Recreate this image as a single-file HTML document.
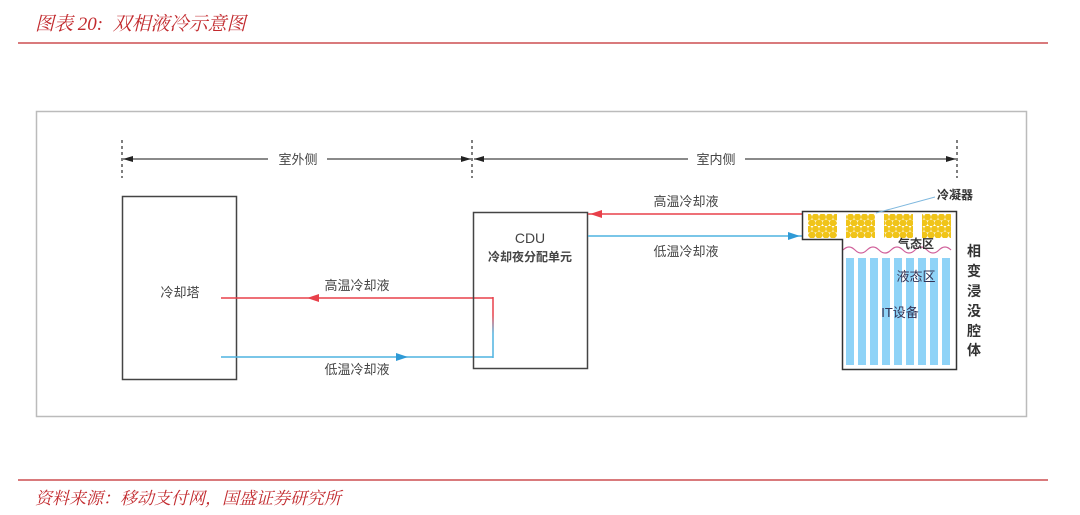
<!DOCTYPE html>
<html><head><meta charset="utf-8"><style>
html,body{margin:0;padding:0;background:#fff;}
body{width:1080px;height:515px;overflow:hidden;position:relative;font-family:"Liberation Sans","Noto Sans CJK SC",sans-serif;}
.t{position:absolute;font-family:"Liberation Serif","Noto Serif CJK SC",serif;font-style:italic;color:#c22a2e;}
</style></head><body>
<div class="t" style="left:35px;top:9px;font-size:19px;">图表 20:&nbsp; 双相液冷示意图</div>
<div style="position:absolute;left:18px;top:42px;width:1030px;height:2px;background:#d97a7c;"></div>
<div style="position:absolute;left:18px;top:479px;width:1030px;height:2px;background:#d97a7c;"></div>
<div class="t" style="left:35px;top:484px;font-size:17px;">资料来源：移动支付网，国盛证券研究所</div>
<svg width="1080" height="515" style="position:absolute;left:0;top:0" font-family="Liberation Sans, Noto Sans CJK SC, sans-serif">
<defs>
<pattern id="dots" x="0" y="214" width="7" height="12" patternUnits="userSpaceOnUse">
<circle cx="3.5" cy="3" r="3.5" fill="#f0c419"/><circle cx="0" cy="9" r="3.5" fill="#f0c419"/><circle cx="7" cy="9" r="3.5" fill="#f0c419"/>
</pattern>
<linearGradient id="vg" gradientUnits="userSpaceOnUse" x1="0" y1="297" x2="0" y2="358"><stop offset="0.3" stop-color="#e8404a"/><stop offset="0.6" stop-color="#4fb3e0"/></linearGradient>
</defs>
<rect x="36.5" y="111.5" width="990" height="305" fill="none" stroke="#bbb" stroke-width="1.5"/>
<g stroke="#555" stroke-width="1.5" stroke-dasharray="3,3">
<line x1="122" y1="140" x2="122" y2="178"/><line x1="472" y1="140" x2="472" y2="178"/><line x1="957" y1="140" x2="957" y2="178"/>
</g>
<g stroke="#444" stroke-width="1.2">
<line x1="123" y1="159" x2="268" y2="159"/><line x1="327" y1="159" x2="471" y2="159"/>
<line x1="474" y1="159" x2="688" y2="159"/><line x1="745" y1="159" x2="956" y2="159"/>
</g>
<g fill="#222">
<polygon points="123,159 133,156 133,162"/><polygon points="471,159 461,156 461,162"/>
<polygon points="474,159 484,156 484,162"/><polygon points="956,159 946,156 946,162"/>
</g>
<text x="298" y="164" font-size="13" fill="#444" text-anchor="middle">室外侧</text>
<text x="716" y="164" font-size="13" fill="#444" text-anchor="middle">室内侧</text>
<rect x="122.5" y="196.5" width="114" height="183" fill="#fff" stroke="#444" stroke-width="1.5"/>
<text x="180" y="297" font-size="13" fill="#444" text-anchor="middle">冷却塔</text>
<line x1="221" y1="298" x2="493" y2="298" stroke="#e8404a" stroke-width="1.5"/>
<line x1="221" y1="357" x2="493" y2="357" stroke="#4fb3e0" stroke-width="1.5"/>
<line x1="493" y1="297" x2="493" y2="358" stroke="url(#vg)" stroke-width="1.5"/>
<polygon points="307,298 319,294 319,302" fill="#e8404a"/>
<polygon points="408,357 396,353 396,361" fill="#2f9ad6"/>
<text x="357" y="290" font-size="13" fill="#444" text-anchor="middle">高温冷却液</text>
<text x="357" y="374" font-size="13" fill="#444" text-anchor="middle">低温冷却液</text>
<rect x="473.5" y="212.5" width="114" height="156" fill="none" stroke="#444" stroke-width="1.5"/>
<text x="530" y="243" font-size="14" fill="#444" text-anchor="middle">CDU</text>
<text x="530" y="261" font-size="12" font-weight="bold" fill="#444" text-anchor="middle">冷却夜分配单元</text>
<line x1="588" y1="214" x2="802" y2="214" stroke="#e8404a" stroke-width="1.5"/>
<polygon points="590,214 602,210 602,218" fill="#e8404a"/>
<line x1="588" y1="236" x2="802" y2="236" stroke="#4fb3e0" stroke-width="1.5"/>
<polygon points="800,236 788,232 788,240" fill="#2f9ad6"/>
<text x="686" y="206" font-size="13" fill="#444" text-anchor="middle">高温冷却液</text>
<text x="686" y="256" font-size="13" fill="#444" text-anchor="middle">低温冷却液</text>
<g fill="#8fd3f7">
<rect x="846" y="258" width="8" height="107"/><rect x="858" y="258" width="8" height="107"/><rect x="870" y="258" width="8" height="107"/>
<rect x="882" y="258" width="8" height="107"/><rect x="894" y="258" width="8" height="107"/><rect x="906" y="258" width="8" height="107"/>
<rect x="918" y="258" width="8" height="107"/><rect x="930" y="258" width="8" height="107"/><rect x="942" y="258" width="8" height="107"/>
</g>
<rect x="808" y="214" width="29" height="24" fill="url(#dots)"/>
<rect x="846" y="214" width="29" height="24" fill="url(#dots)"/>
<rect x="884" y="214" width="29" height="24" fill="url(#dots)"/>
<rect x="922" y="214" width="29" height="24" fill="url(#dots)"/>
<path d="M843,250 q6,-6 12,0 t12,0 t12,0 t12,0 t12,0 t12,0 t12,0 t12,0 t12,0" fill="none" stroke="#d0609a" stroke-width="1.2"/>
<path d="M802.5,211.5 H956.5 V369.5 H842.5 V239.5 H802.5 Z" fill="none" stroke="#333" stroke-width="1.5"/>
<line x1="876" y1="213" x2="935" y2="197" stroke="#7fb8de" stroke-width="1"/>
<text x="955" y="199" font-size="12" font-weight="bold" fill="#333" text-anchor="middle">冷凝器</text>
<text x="916" y="248" font-size="12" font-weight="bold" fill="#333" text-anchor="middle">气态区</text>
<text x="916" y="281" font-size="13" fill="#335" text-anchor="middle">液态区</text>
<text x="900" y="317" font-size="13" fill="#335" text-anchor="middle">IT设备</text>
<g font-size="14" font-weight="bold" fill="#333" text-anchor="middle">
<text x="974" y="256">相</text><text x="974" y="276">变</text><text x="974" y="296">浸</text>
<text x="974" y="316">没</text><text x="974" y="336">腔</text><text x="974" y="355">体</text>
</g>
</svg>
</body></html>
